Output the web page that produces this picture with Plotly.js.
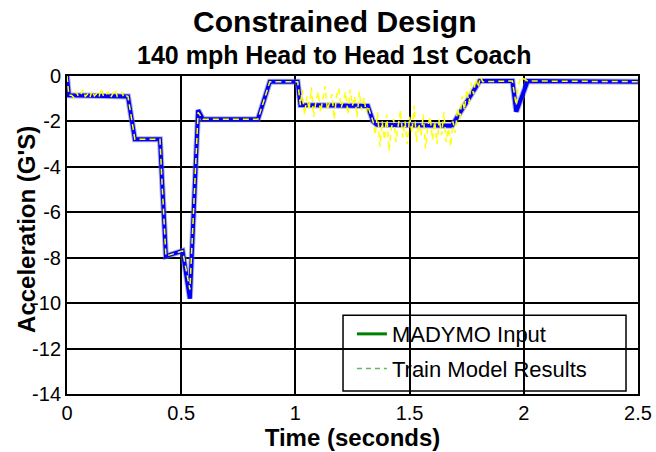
<!DOCTYPE html>
<html><head><meta charset="utf-8">
<script src="https://cdn.plot.ly/plotly-3.0.1.min.js"></script>
<style>html,body{margin:0;padding:0;background:#fff}#chart{width:656px;height:452px}</style>
</head><body><div id="chart"></div>
<script>
// MADYMO Input (time in s, acceleration in G's)
const madymoTime = [0, 0.008, 0.267, 0.297, 0.407, 0.415, 0.433, 0.506, 0.538, 0.574, 0.595, 0.836, 0.888, 1.010, 1.022, 1.317, 1.340, 1.357, 1.685, 1.807, 1.950, 1.967, 2.017, 2.5];
const madymoAcc  = [0, -0.85, -0.9, -2.78, -2.78, -4.5, -7.93, -7.7, -9.8, -1.5, -1.9, -1.9, -0.25, -0.25, -1.28, -1.32, -2.0, -2.15, -2.19, -0.22, -0.22, -1.57, -0.22, -0.25];

// Train Model Results
const trainTime = [0, 0.008,
  0.02,0.03,0.04,0.05,0.06,0.07,0.08,0.09,0.10,0.11,0.12,0.13,0.14,0.15,0.16,0.17,0.18,0.19,0.20,0.21,0.22,0.23,0.24,0.25,0.26,
  0.267, 0.297, 0.407, 0.415, 0.433, 0.506, 0.538, 0.574, 0.595, 0.836, 0.888, 1.010, 1.022,
  1.03,1.04,1.05,1.06,1.07,1.08,1.09,1.10,1.11,1.12,1.13,1.14,1.15,1.16,1.17,1.18,1.19,1.20,1.21,1.22,1.23,1.24,1.25,1.26,1.27,1.28,1.29,1.30,1.31,
  1.317, 1.340,
  1.35,1.36,1.37,1.38,1.39,1.40,1.41,1.42,1.43,1.44,1.45,1.46,1.47,1.48,1.49,1.50,1.51,1.52,1.53,1.54,1.55,1.56,1.57,1.58,1.59,1.60,1.61,1.62,1.63,1.64,1.65,1.66,1.67,1.68,1.69,
  1.70,1.71,1.72,1.73,1.74,1.75,1.76,1.77,1.78,1.79,1.80,1.81,1.82,
  1.950, 1.967, 1.975, 1.985, 2.017, 2.5];
const trainAcc = [0, -0.85,
  -0.85,-0.95,-0.7,-0.9,-0.82,-0.6,-0.9,-0.8,-0.95,-0.65,-0.88,-0.78,-0.92,-0.55,-0.9,-0.85,-0.7,-0.95,-0.8,-0.6,-0.9,-0.85,-0.72,-0.95,-0.88,
  -0.9, -2.78, -2.78, -4.5, -7.93, -7.7, -9.4, -1.6, -1.9, -1.9, -0.25, -0.25, -1.28,
  -0.6,-1.7,-0.9,-1.5,-0.5,-1.8,-1.1,-0.7,-1.6,-1.0,-0.45,-1.5,-1.2,-0.8,-1.9,-0.9,-0.55,-1.4,-1.1,-0.7,-1.7,-0.6,-1.3,-0.9,-1.8,-0.7,-1.5,-0.95,-1.6,
  -1.32, -2.0,
  -2.6,-1.6,-3.1,-2.0,-2.8,-1.7,-3.3,-2.3,-1.9,-2.9,-2.2,-1.5,-2.7,-2.0,-3.0,-1.8,-2.5,-1.3,-2.9,-2.1,-2.6,-1.7,-3.2,-2.2,-1.8,-2.8,-2.0,-3.0,-1.9,-2.6,-1.6,-2.9,-2.3,-3.1,-2.0,
  -2.5,-1.4,-1.9,-0.9,-1.5,-0.6,-1.2,-0.3,-0.8,-0.1,-0.5,-0.05,-0.25,
  -0.22, -1.3, -0.6, -0.05, -0.22, -0.25];

const legendNames = ["MADYMO Input", "Train Model Results"];
const xTicks = [0, 0.5, 1, 1.5, 2, 2.5];
const xTickText = ["0", "0.5", "1", "1.5", "2", "2.5"];
const yTicks = [-14, -12, -10, -8, -6, -4, -2, 0];
const yTickText = ["-14", "-12", "-10", "-8", "-6", "-4", "-2", "0"];

const traces = [
  {x: madymoTime, y: madymoAcc, mode: 'lines', line: {color: 'rgba(110,110,190,0.55)', width: 6}, showlegend: false, hoverinfo: 'skip'},
  {x: madymoTime, y: madymoAcc, mode: 'lines', line: {color: '#0000ff', width: 4}, showlegend: false},
  {x: trainTime, y: trainAcc, mode: 'lines', line: {color: '#ffff00', width: 1.5, dash: '6px,4px'}, showlegend: false},
  {x: [null], y: [null], mode: 'lines', name: legendNames[0], legendgroup: 'a', line: {color: '#008000', width: 3}},
  {x: [null], y: [null], mode: 'lines', name: legendNames[1], legendgroup: 'b', line: {color: '#5fba5f', width: 1.5, dash: '5px,4px'}}
];

const layout = {
  width: 656, height: 452,
  margin: {l: 67, r: 18, t: 76, b: 58},
  paper_bgcolor: '#fff', plot_bgcolor: '#fff',
  font: {family: 'Liberation Sans, Arial, sans-serif', color: '#000', size: 20},
  title: {text: '<b>Constrained Design</b>', font: {size: 30, color: '#000'}, x: 0.469, xref: 'paper', xanchor: 'center', y: 0.952, yref: 'container', yanchor: 'middle'},
  annotations: [
    {text: '<b>140 mph Head to Head 1st Coach</b>', xref: 'paper', yref: 'paper', x: 0.469, y: 1.0, yshift: 21, showarrow: false, font: {size: 25, color: '#000'}, xanchor: 'center', yanchor: 'middle'},
    {text: '<b>Acceleration (G\'S)</b>', xref: 'paper', yref: 'paper', x: -0.070, y: 0.516, textangle: -90, showarrow: false, font: {size: 24, color: '#000'}, xanchor: 'center', yanchor: 'middle'}
  ],
  xaxis: {
    range: [0, 2.5], tickvals: xTicks, ticktext: xTickText, showgrid: true, gridcolor: '#000', gridwidth: 2,
    zeroline: false, showline: true, mirror: true, linecolor: '#000', linewidth: 2,
    ticks: '', tickfont: {size: 20},
    title: {text: '<b>Time (seconds)</b>', font: {size: 24}, standoff: 0}
  },
  yaxis: {
    range: [-14, 0], tickvals: yTicks, ticktext: yTickText, showgrid: true, gridcolor: '#000', gridwidth: 2,
    zeroline: false, showline: true, mirror: true, linecolor: '#000', linewidth: 2,
    ticks: '', tickfont: {size: 20}
  },
  legend: {x: 0.499, y: 0.2545, xanchor: 'left', yanchor: 'top', bgcolor: 'rgba(0,0,0,0)', borderwidth: 0,
    font: {size: 22}, tracegroupgap: 3, traceorder: 'grouped'},
  shapes: [{type: 'rect', xref: 'paper', yref: 'paper', x0: 0.4834, x1: 0.979, y0: 0.0094, y1: 0.248,
    line: {color: '#000', width: 1.5}, fillcolor: 'rgba(0,0,0,0)', layer: 'above'}]
};

Plotly.newPlot('chart', traces, layout, {displayModeBar: false, staticPlot: true});
</script>
</body></html>
